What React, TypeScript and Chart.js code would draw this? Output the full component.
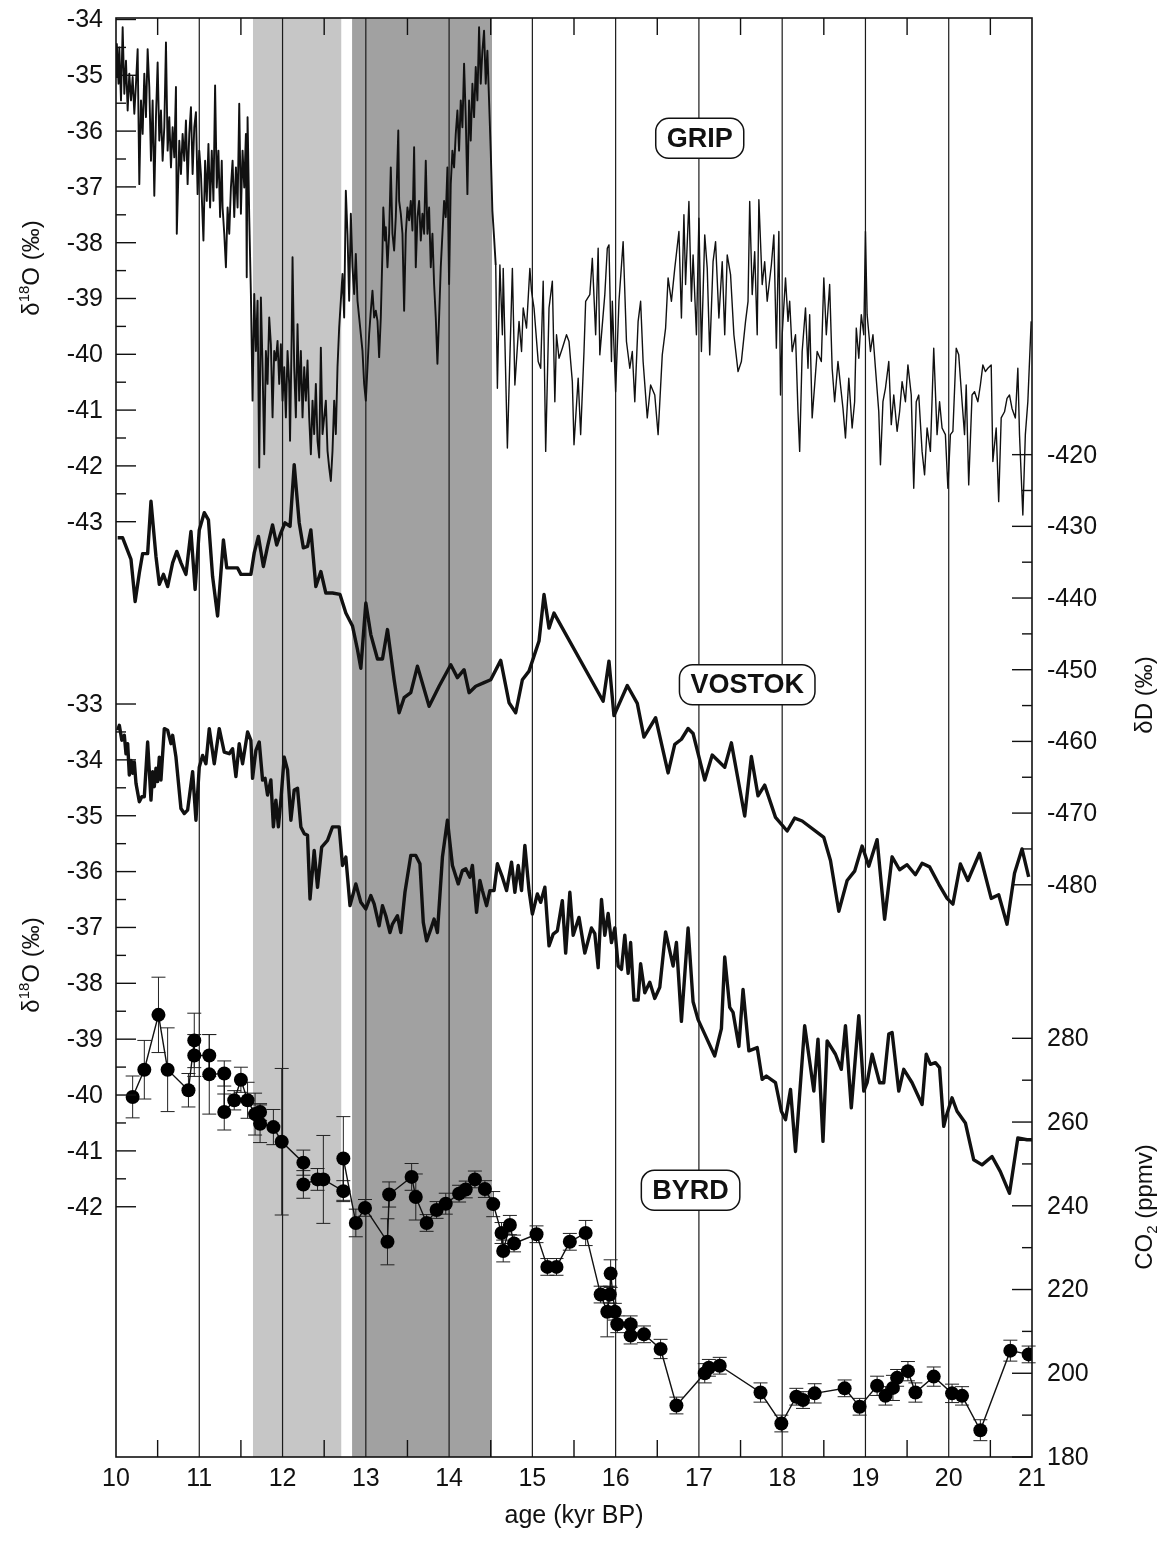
import { useEffect, useRef } from "react";
import { Chart, registerables } from "chart.js";

Chart.register(...registerables);

// ---------------- DATA ----------------
// GRIP δ18O (‰), left upper axis
const gripAge = [
  10.00, 10.01, 10.03, 10.04, 10.06, 10.08, 10.10, 10.12, 10.14, 10.16, 10.18, 10.20, 10.22, 10.24, 10.26, 10.28, 10.30, 10.32, 10.34, 10.36,
  10.38, 10.40, 10.42, 10.44, 10.46, 10.48, 10.50, 10.52, 10.54, 10.56, 10.58, 10.60, 10.62, 10.64, 10.66, 10.68, 10.70, 10.72, 10.73, 10.76,
  10.78, 10.80, 10.82, 10.84, 10.86, 10.88, 10.90, 10.92, 10.94, 10.96, 10.98, 11.00, 11.02, 11.05, 11.07, 11.09, 11.11, 11.13, 11.15, 11.17,
  11.19, 11.21, 11.23, 11.25, 11.27, 11.28, 11.30, 11.32, 11.34, 11.36, 11.38, 11.40, 11.42, 11.44, 11.46, 11.48, 11.50, 11.52, 11.54, 11.56,
  11.57, 11.58, 11.60, 11.62, 11.64, 11.66, 11.68, 11.70, 11.72, 11.74, 11.76, 11.78, 11.80, 11.82, 11.84, 11.86, 11.88, 11.90, 11.92, 11.94,
  11.96, 11.98, 12.00, 12.02, 12.04, 12.06, 12.08, 12.09, 12.11, 12.12, 12.14, 12.16, 12.18, 12.20, 12.22, 12.24, 12.26, 12.28, 12.30, 12.32,
  12.34, 12.36, 12.38, 12.40, 12.42, 12.44, 12.46, 12.48, 12.50, 12.52, 12.54, 12.56, 12.58, 12.60, 12.62, 12.64, 12.66, 12.68, 12.70, 12.72,
  12.74, 12.76, 12.78, 12.80, 12.82, 12.84, 12.86, 12.88, 12.90, 12.92, 12.94, 12.96, 12.98, 13.00, 13.02, 13.04, 13.06, 13.08, 13.10, 13.12,
  13.14, 13.16, 13.18, 13.20, 13.21, 13.23, 13.24, 13.26, 13.28, 13.30, 13.32, 13.34, 13.36, 13.39, 13.40, 13.42, 13.44, 13.46, 13.48, 13.50,
  13.52, 13.54, 13.56, 13.58, 13.60, 13.62, 13.64, 13.66, 13.68, 13.70, 13.72, 13.74, 13.76, 13.78, 13.80, 13.82, 13.84, 13.86, 13.88, 13.90,
  13.92, 13.94, 13.96, 13.98, 14.00, 14.02, 14.04, 14.06, 14.08, 14.10, 14.12, 14.14, 14.16, 14.18, 14.20, 14.22, 14.24, 14.26, 14.28, 14.30,
  14.32, 14.34, 14.36, 14.38, 14.40, 14.42, 14.44, 14.46, 14.48, 14.50, 14.52, 14.54,
  14.56, 14.58, 14.61, 14.64, 14.65, 14.70, 14.76, 14.79, 14.84, 14.87, 14.89, 14.93, 14.97, 14.99, 15.02, 15.07, 15.10, 15.13, 15.16, 15.20,
  15.24, 15.27, 15.29, 15.32, 15.36, 15.41, 15.44, 15.48, 15.50, 15.55, 15.58, 15.62, 15.64, 15.69, 15.72, 15.76, 15.79, 15.81, 15.87, 15.90,
  15.92, 15.95, 15.96, 16.00, 16.04, 16.09, 16.13, 16.17, 16.20, 16.23, 16.27, 16.30, 16.33, 16.38, 16.42, 16.47, 16.51, 16.56, 16.60, 16.63,
  16.67, 16.71, 16.76, 16.79, 16.82, 16.84, 16.88, 16.91, 16.93, 16.97, 17.00, 17.03, 17.07, 17.10, 17.13, 17.17, 17.20, 17.24, 17.28, 17.31,
  17.34, 17.38, 17.42, 17.47, 17.51, 17.56, 17.59, 17.61, 17.64, 17.67, 17.70, 17.72, 17.76, 17.79, 17.82, 17.87, 17.90, 17.93, 17.96, 17.98,
  18.00, 18.04, 18.07, 18.09, 18.12, 18.16, 18.19, 18.21, 18.24, 18.28, 18.31, 18.33, 18.36, 18.39, 18.42, 18.47, 18.50, 18.53, 18.57, 18.60,
  18.63, 18.67, 18.70, 18.73, 18.76, 18.80, 18.84, 18.87, 18.89, 18.92, 18.95, 18.98, 19.00, 19.02, 19.06, 19.09, 19.12, 19.16, 19.18, 19.21,
  19.24, 19.28, 19.31, 19.34, 19.38, 19.41, 19.44, 19.48, 19.51, 19.55, 19.58, 19.61, 19.64, 19.68, 19.71, 19.74, 19.78, 19.82, 19.86, 19.89,
  19.92, 19.96, 19.99, 20.02, 20.05, 20.09, 20.12, 20.16, 20.19, 20.21, 20.24, 20.28, 20.31, 20.35, 20.38, 20.41, 20.44, 20.47, 20.51, 20.53,
  20.57, 20.60, 20.63, 20.67, 20.70, 20.73, 20.76, 20.80, 20.83, 20.85, 20.89, 20.92, 20.95, 20.99,
];
const gripD18O = [
  -35.03, -34.44, -35.15, -34.50, -35.45, -34.14, -35.33, -34.74, -35.63, -34.97, -35.45, -35.03, -35.69, -35.15, -34.53, -36.95, -35.45, -36.05, -34.97, -35.75,
  -34.53, -35.21, -36.53, -35.45, -37.16, -35.75, -34.77, -36.17, -35.63, -36.53, -35.93, -34.41, -36.35, -35.75, -36.65, -35.93, -36.47, -35.21, -37.84, -36.17,
  -36.77, -36.05, -36.53, -35.81, -36.95, -36.05, -35.57, -36.77, -35.93, -35.66, -37.13, -36.35, -36.77, -37.96, -36.53, -37.25, -36.23, -37.37, -36.35, -37.25,
  -35.18, -37.01, -36.35, -37.54, -36.53, -37.37, -37.84, -38.44, -37.37, -37.84, -37.01, -36.53, -37.54, -36.65, -37.37, -35.51, -37.48, -36.35, -37.01, -36.05,
  -38.62, -35.75, -37.54, -38.92, -40.83, -38.92, -39.94, -39.04, -42.03, -38.98, -40.23, -41.79, -39.94, -40.53, -39.34, -39.82, -41.13, -39.94, -40.11, -39.76,
  -40.53, -39.82, -40.83, -40.23, -41.13, -39.94, -40.53, -41.55, -39.64, -38.26, -40.23, -41.13, -39.46, -40.83, -39.94, -41.13, -40.23, -40.83, -40.11, -41.13,
  -41.79, -40.83, -41.43, -40.53, -41.55, -41.85, -39.88, -41.43, -41.13, -40.83, -41.73, -42.03, -42.27, -41.73, -40.83, -41.43, -40.23, -39.52, -39.04, -38.56,
  -39.34, -37.07, -37.84, -39.04, -37.48, -38.44, -38.92, -38.20, -39.04, -39.34, -39.64, -39.94, -40.53, -40.83, -40.23, -39.64, -39.22, -38.86, -39.34, -39.22,
  -39.40, -40.05, -39.34, -38.14, -37.37, -37.96, -37.72, -38.44, -37.84, -36.65, -37.84, -38.14, -37.54, -35.99, -37.25, -37.48, -37.84, -39.22, -37.84, -37.37,
  -37.60, -37.25, -37.78, -36.29, -38.44, -37.54, -37.25, -37.96, -37.48, -37.84, -36.53, -37.84, -37.37, -38.44, -37.84, -38.74, -39.34, -40.17, -39.34, -38.44,
  -37.84, -37.25, -37.54, -36.65, -38.74, -36.95, -36.35, -36.65, -36.05, -35.63, -36.35, -35.45, -35.93, -34.79, -35.75, -37.13, -35.45, -36.17, -35.15, -35.75,
  -34.85, -35.45, -34.14, -35.15, -34.56, -34.20, -35.15, -34.56, -35.45, -36.35, -37.43, -37.90,
  -38.40, -40.61, -38.40, -39.65, -38.46, -41.68, -38.46, -40.55, -39.41, -39.95, -39.17, -39.53, -38.46, -38.87, -39.17, -40.13, -40.25, -38.69, -41.74, -39.17,
  -38.69, -40.85, -39.65, -40.07, -39.89, -39.65, -39.77, -40.49, -41.62, -40.43, -41.44, -39.95, -39.05, -38.93, -38.28, -39.65, -38.10, -40.01, -38.93, -38.10,
  -38.04, -40.13, -39.05, -40.67, -39.05, -37.98, -39.77, -40.25, -39.95, -40.85, -39.41, -39.05, -40.13, -41.14, -40.55, -40.73, -41.44, -40.01, -39.53, -38.63,
  -39.05, -38.46, -37.80, -39.35, -37.50, -38.75, -37.26, -39.05, -38.22, -39.65, -37.56, -39.95, -37.86, -38.46, -40.01, -38.34, -37.98, -39.35, -38.34, -39.65,
  -38.22, -38.57, -39.65, -40.31, -40.13, -39.41, -39.05, -37.26, -38.93, -38.16, -39.65, -37.23, -38.75, -38.34, -39.05, -38.40, -37.86, -39.89, -37.80, -40.73,
  -39.65, -38.63, -39.41, -39.05, -39.95, -39.65, -41.03, -41.74, -39.95, -39.17, -40.25, -39.29, -41.14, -40.55, -39.95, -40.13, -38.63, -39.65, -38.75, -40.25,
  -40.85, -40.13, -40.55, -40.97, -41.50, -40.43, -41.32, -40.85, -39.53, -40.07, -39.29, -39.65, -37.80, -39.29, -39.95, -39.65, -40.25, -41.03, -41.98, -40.85,
  -40.61, -40.13, -41.26, -40.73, -41.38, -41.03, -40.49, -40.85, -40.19, -40.73, -42.40, -40.85, -40.73, -41.74, -42.16, -41.32, -41.74, -39.89, -41.44, -40.85,
  -41.32, -41.44, -42.40, -41.44, -41.38, -39.89, -40.01, -40.85, -41.44, -40.55, -42.34, -40.73, -40.67, -40.85, -40.55, -40.19, -40.31, -40.25, -40.19, -41.92,
  -41.32, -42.64, -41.14, -41.03, -40.79, -40.73, -40.97, -41.14, -40.25, -41.44, -42.88, -41.44, -40.85, -39.41,
];

// VOSTOK δD (‰), right upper axis
const vostokAge = [
  10.02, 10.08, 10.18, 10.23, 10.28, 10.32, 10.38, 10.42, 10.48, 10.52, 10.57, 10.62, 10.68, 10.73, 10.78, 10.84, 10.90, 10.95, 11.00, 11.06,
  11.11, 11.16, 11.22, 11.29, 11.33, 11.40, 11.46, 11.50, 11.62, 11.66, 11.71, 11.77, 11.82, 11.88, 11.93, 11.98, 12.03, 12.09, 12.14, 12.20,
  12.25, 12.30, 12.34, 12.40, 12.46, 12.52, 12.60, 12.69, 12.76, 12.84, 12.90, 12.94, 13.00, 13.06, 13.14, 13.20, 13.26, 13.34, 13.40, 13.46,
  13.54, 13.62, 13.76, 13.88, 14.02, 14.10, 14.18, 14.24, 14.32, 14.42, 14.50, 14.62, 14.72, 14.80, 14.88, 14.96, 15.08, 15.14, 15.20, 15.26,
  15.85, 15.92, 15.98, 16.14, 16.26, 16.34, 16.48, 16.63, 16.71, 16.79, 16.87, 16.93, 17.07, 17.16, 17.31, 17.39, 17.55, 17.63, 17.71, 17.79,
  17.92, 18.06, 18.15, 18.24, 18.50, 18.58, 18.68, 18.78, 18.87, 18.96, 19.04, 19.14, 19.23, 19.32, 19.41, 19.50, 19.60, 19.68, 19.77, 19.88,
  19.98, 20.05, 20.14, 20.23, 20.37, 20.51, 20.60, 20.70, 20.79, 20.88, 20.96,
];
const vostokDD = [
  -431.6, -431.6, -434.6, -440.5, -436.5, -433.8, -433.8, -426.5, -434.2, -438.1, -436.7, -438.4, -435.1, -433.5, -435.1, -436.7, -430.7, -438.8, -430.5, -428.1,
  -429.1, -437.0, -442.5, -431.9, -435.8, -435.8, -435.8, -436.7, -436.7, -433.7, -431.4, -435.6, -432.8, -429.8, -432.6, -430.9, -429.5, -430.0, -421.4, -429.5,
  -433.0, -432.8, -430.5, -438.4, -436.3, -439.3, -439.3, -439.5, -442.1, -443.9, -447.2, -449.8, -440.7, -445.1, -448.5, -448.5, -444.4, -451.4, -456.0, -453.9,
  -453.2, -449.5, -455.1, -452.3, -449.3, -451.1, -450.0, -453.2, -452.3, -451.8, -451.4, -448.7, -454.6, -456.0, -451.4, -450.2, -446.0, -439.5, -444.2, -442.1,
  -454.4, -448.8, -456.4, -452.2, -454.7, -459.4, -456.7, -464.4, -460.4, -459.7, -458.2, -458.9, -465.4, -461.9, -463.6, -460.2, -470.4, -462.1, -467.6, -466.1,
  -470.6, -472.5, -470.7, -471.1, -473.4, -476.6, -483.7, -479.4, -478.1, -474.6, -477.4, -473.7, -484.8, -476.1, -477.9, -477.2, -478.6, -477.0, -477.5, -479.9,
  -481.9, -482.7, -477.1, -479.4, -475.6, -481.9, -481.4, -485.5, -478.4, -475.0, -478.9,
];

// BYRD δ18O (‰), left lower axis
const byrdAge = [
  10.02, 10.04, 10.07, 10.10, 10.12, 10.14, 10.16, 10.18, 10.20, 10.22, 10.24, 10.28, 10.31, 10.34, 10.38, 10.42, 10.44, 10.46, 10.48, 10.50,
  10.52, 10.54, 10.58, 10.62, 10.66, 10.68, 10.72, 10.78, 10.82, 10.86, 10.92, 10.96, 11.00, 11.04, 11.08, 11.12, 11.18, 11.24, 11.30, 11.36,
  11.40, 11.44, 11.48, 11.52, 11.58, 11.62, 11.64, 11.68, 11.72, 11.76, 11.79, 11.82, 11.86, 11.89, 11.92, 11.95, 11.98, 12.02, 12.06, 12.10,
  12.14, 12.18, 12.22, 12.26, 12.30, 12.33, 12.38, 12.42, 12.47, 12.54, 12.60, 12.68, 12.72, 12.76, 12.81, 12.88, 12.94, 13.00, 13.06, 13.10,
  13.16, 13.20, 13.24, 13.29, 13.32, 13.38, 13.42, 13.47, 13.54, 13.60, 13.65, 13.69, 13.73, 13.78, 13.82, 13.86, 13.92, 13.98, 14.04, 14.11,
  14.16, 14.20, 14.25, 14.28, 14.33, 14.37, 14.40, 14.45, 14.49, 14.54, 14.58, 14.64, 14.69, 14.75, 14.79, 14.83, 14.87, 14.91, 14.96, 15.00,
  15.06, 15.10, 15.15, 15.20, 15.25, 15.30, 15.36, 15.40, 15.45, 15.49, 15.56, 15.63, 15.71, 15.75, 15.79, 15.83, 15.87, 15.91, 15.95, 15.99,
  16.03, 16.07, 16.11, 16.15, 16.18, 16.22, 16.27, 16.30, 16.35, 16.41, 16.47, 16.53, 16.60, 16.69, 16.73, 16.79, 16.87, 16.93, 16.99, 17.07,
  17.19, 17.27, 17.31, 17.37, 17.41, 17.48, 17.53, 17.60, 17.70, 17.76, 17.81, 17.92, 17.99, 18.04, 18.10, 18.16, 18.27, 18.38, 18.43, 18.49,
  18.54, 18.64, 18.71, 18.76, 18.83, 18.92, 18.98, 19.02, 19.08, 19.17, 19.22, 19.28, 19.32, 19.40, 19.46, 19.56, 19.68, 19.73, 19.78, 19.84,
  19.89, 19.94, 19.97, 20.04, 20.10, 20.20, 20.30, 20.40, 20.52, 20.62, 20.73, 20.83, 20.94, 21.00,
];
const byrdD18O = [
  -33.47, -33.38, -33.65, -33.56, -33.89, -33.71, -34.27, -34.01, -34.24, -34.04, -34.42, -34.75, -34.66, -34.66, -33.68, -34.72, -34.21, -34.48, -34.15, -34.39,
  -33.95, -34.36, -33.44, -33.47, -33.71, -33.56, -33.95, -34.87, -34.96, -34.90, -34.21, -35.08, -34.13, -33.92, -34.07, -33.44, -34.07, -33.44, -33.86, -33.89,
  -33.80, -34.30, -33.71, -34.07, -33.50, -33.65, -34.33, -33.83, -33.68, -34.36, -34.33, -34.63, -34.36, -35.20, -34.72, -35.20, -34.72, -33.95, -34.18, -35.08,
  -34.54, -34.51, -35.20, -35.32, -35.35, -36.49, -35.62, -36.28, -35.56, -35.44, -35.20, -35.20, -35.89, -35.74, -36.61, -36.22, -36.55, -36.67, -36.43, -36.58,
  -36.97, -36.61, -36.79, -37.09, -36.94, -36.79, -37.09, -36.37, -35.71, -35.71, -35.86, -36.91, -37.24, -37.03, -36.85, -37.09, -35.74, -35.08, -35.89, -36.22,
  -35.98, -35.95, -36.10, -35.89, -36.73, -36.16, -36.34, -36.61, -36.34, -36.34, -35.86, -36.10, -36.34, -35.83, -36.37, -35.89, -36.34, -35.53, -36.34, -36.76,
  -36.40, -36.55, -36.28, -37.33, -37.12, -37.06, -36.52, -37.46, -36.37, -37.14, -36.82, -37.46, -37.01, -37.11, -37.72, -36.50, -37.14, -36.75, -37.27, -37.01,
  -37.69, -37.75, -37.14, -37.82, -37.27, -38.30, -38.30, -37.65, -38.17, -37.98, -38.27, -38.07, -37.08, -37.69, -37.27, -38.68, -37.01, -38.33, -38.65, -38.91,
  -39.30, -38.81, -37.53, -38.43, -38.52, -39.13, -38.11, -39.21, -39.15, -39.72, -39.66, -39.78, -40.29, -40.44, -39.90, -41.01, -38.76, -39.93, -39.00, -40.83,
  -39.03, -39.27, -39.54, -38.76, -40.23, -38.58, -39.93, -39.78, -39.27, -39.78, -39.78, -38.91, -38.88, -39.93, -39.54, -39.78, -40.17, -39.27, -39.45, -39.42,
  -39.51, -40.56, -40.38, -40.05, -40.29, -40.50, -41.16, -41.25, -41.10, -41.37, -41.76, -40.77, -40.80, -40.80,
];

// BYRD CO2 (ppmv), right lower axis, with 1-sigma error
const co2Age = [
  10.20, 10.34, 10.51, 10.62, 10.87, 10.94, 10.94, 11.12, 11.12, 11.30, 11.30, 11.42, 11.50, 11.58, 11.67, 11.73, 11.73, 11.89, 11.99, 12.25,
  12.25, 12.42, 12.49, 12.73, 12.73, 12.88, 12.99, 13.26, 13.28, 13.55, 13.60, 13.73, 13.85, 13.96, 14.12, 14.20, 14.31, 14.43, 14.53, 14.63,
  14.65, 14.73, 14.78, 15.05, 15.18, 15.29, 15.45, 15.64, 15.82, 15.90, 15.93, 15.94, 15.99, 16.02, 16.18, 16.18, 16.34, 16.54, 16.73, 17.07,
  17.12, 17.25, 17.74, 17.99, 18.17, 18.25, 18.39, 18.75, 18.93, 19.14, 19.24, 19.33, 19.38, 19.51, 19.60, 19.82, 20.04, 20.16, 20.38, 20.74,
  20.96,
];
const co2Ppmv = [
  266.0, 272.5, 285.6, 272.5, 267.6, 279.5, 275.9, 275.9, 271.4, 271.6, 262.4, 265.2, 270.1, 265.2, 261.9, 262.4, 259.6, 258.8, 255.3, 250.3,
  245.1, 246.3, 246.3, 243.5, 251.3, 235.9, 239.5, 231.4, 242.7, 246.9, 242.1, 235.9, 239.0, 240.5, 242.9, 243.9, 246.3, 244.0, 240.4, 233.5,
  229.2, 235.4, 231.0, 233.2, 225.4, 225.4, 231.4, 233.5, 218.8, 214.7, 218.8, 223.8, 214.7, 211.7, 211.7, 209.0, 209.3, 205.8, 192.3, 200.0,
  201.3, 201.8, 195.4, 188.0, 194.4, 193.6, 195.2, 196.4, 192.0, 197.0, 194.6, 196.5, 198.9, 200.5, 195.4, 199.2, 195.2, 194.6, 186.4, 205.4,
  204.5,
];
const co2Err = [
  5.0, 7.0, 9.0, 10.0, 4.0, 6.5, 5.0, 5.0, 9.5, 3.0, 4.3, 2.3, 3.0, 4.3, 5.0, 2.0, 4.5, 4.2, 17.5, 3.0,
  3.3, 2.6, 10.5, 2.5, 10.0, 3.3, 2.0, 5.5, 3.0, 3.2, 5.5, 2.0, 2.0, 2.5, 2.0, 2.0, 2.0, 2.0, 3.0, 2.5,
  2.6, 2.3, 2.0, 2.0, 2.0, 2.0, 2.0, 3.0, 2.0, 6.0, 2.0, 3.3, 2.0, 2.0, 2.0, 2.0, 2.0, 2.3, 2.0, 2.3,
  2.0, 2.0, 2.3, 2.0, 2.0, 2.0, 2.3, 2.0, 2.0, 2.3, 2.2, 3.0, 2.0, 2.3, 2.3, 2.3, 2.2, 2.2, 2.5, 2.5,
  2.0,
];

// axis ticks / labels
const xTickLabels = [10, 11, 12, 13, 14, 15, 16, 17, 18, 19, 20, 21];
const xMinorTicks = [10.5, 11.5, 12.5, 13.5, 14.5, 15.5, 16.5, 17.5, 18.5, 19.5, 20.5];
const gripTicks = [-34, -35, -36, -37, -38, -39, -40, -41, -42, -43];
const gripMinor = [-34.5, -35.5, -36.5, -37.5, -38.5, -39.5, -40.5, -41.5, -42.5];
const byrdTicks = [-33, -34, -35, -36, -37, -38, -39, -40, -41, -42];
const byrdMinor = [-33.5, -34.5, -35.5, -36.5, -37.5, -38.5, -39.5, -40.5, -41.5];
const dDTicks = [-420, -430, -440, -450, -460, -470, -480];
const dDMinor = [-425, -435, -445, -455, -465, -475];
const co2Ticks = [180, 200, 220, 240, 260, 280];
const co2Minor = [190, 210, 230, 250, 270];

// shaded intervals (kyr BP)
const bandLight = [11.645, 12.705];
const bandDark = [12.835, 14.515];

const FONT = '"Liberation Sans", Arial, Helvetica, sans-serif';

type Part = { t: string; size: number; dy: number };

function drawParts(ctx: CanvasRenderingContext2D, cx: number, cy: number, parts: Part[], rot: number) {
  ctx.save();
  ctx.translate(cx, cy);
  ctx.rotate(rot);
  const widths: number[] = [];
  let total = 0;
  for (const p of parts) {
    ctx.font = `${p.size}px ${FONT}`;
    const w = ctx.measureText(p.t).width;
    widths.push(w);
    total += w;
  }
  let x = -total / 2;
  ctx.textAlign = "left";
  ctx.textBaseline = "alphabetic";
  ctx.fillStyle = "#111";
  parts.forEach((p, i) => {
    ctx.font = `${p.size}px ${FONT}`;
    ctx.fillText(p.t, x, 9 + p.dy);
    x += widths[i];
  });
  ctx.restore();
}

function labelBox(ctx: CanvasRenderingContext2D, cx: number, cy: number, text: string) {
  ctx.save();
  ctx.font = `bold 27px ${FONT}`;
  const w = ctx.measureText(text).width + 22;
  const h = 40;
  const x = cx - w / 2;
  const y = cy - h / 2;
  const r = 13;
  ctx.beginPath();
  ctx.moveTo(x + r, y);
  ctx.lineTo(x + w - r, y);
  ctx.arcTo(x + w, y, x + w, y + r, r);
  ctx.lineTo(x + w, y + h - r);
  ctx.arcTo(x + w, y + h, x + w - r, y + h, r);
  ctx.lineTo(x + r, y + h);
  ctx.arcTo(x, y + h, x, y + h - r, r);
  ctx.lineTo(x, y + r);
  ctx.arcTo(x, y, x + r, y, r);
  ctx.closePath();
  ctx.fillStyle = "#fff";
  ctx.fill();
  ctx.lineWidth = 1.5;
  ctx.strokeStyle = "#111";
  ctx.stroke();
  ctx.fillStyle = "#111";
  ctx.textAlign = "center";
  ctx.textBaseline = "middle";
  ctx.fillText(text, cx, cy + 1);
  ctx.restore();
}

const decor = {
  id: "decor",
  beforeDatasetsDraw(chart: any) {
    const { ctx, chartArea: a, scales } = chart;
    const xs = scales.x;
    ctx.save();
    const bands: [number[], string][] = [
      [bandLight, "#c6c6c6"],
      [bandDark, "#a1a1a1"],
    ];
    for (const [b, col] of bands) {
      const x0 = xs.getPixelForValue(b[0]);
      const x1 = xs.getPixelForValue(b[1]);
      ctx.fillStyle = col;
      ctx.fillRect(x0, a.top, x1 - x0, a.bottom - a.top);
    }
    ctx.strokeStyle = "#1a1a1a";
    ctx.lineWidth = 1.2;
    for (const v of xTickLabels) {
      if (v === 10 || v === 21) continue;
      const px = xs.getPixelForValue(v);
      ctx.beginPath();
      ctx.moveTo(px, a.top);
      ctx.lineTo(px, a.bottom);
      ctx.stroke();
    }
    // CO2 error bars
    const meta = chart.getDatasetMeta(3);
    const yC = scales.yC;
    ctx.lineWidth = 1;
    ctx.strokeStyle = "#222";
    meta.data.forEach((pt: any, i: number) => {
      const top = yC.getPixelForValue(co2Ppmv[i] + co2Err[i]);
      const bot = yC.getPixelForValue(co2Ppmv[i] - co2Err[i]);
      ctx.beginPath();
      ctx.moveTo(pt.x, top);
      ctx.lineTo(pt.x, bot);
      ctx.moveTo(pt.x - 7, top);
      ctx.lineTo(pt.x + 7, top);
      ctx.moveTo(pt.x - 7, bot);
      ctx.lineTo(pt.x + 7, bot);
      ctx.stroke();
    });
    ctx.restore();
  },
  afterDatasetsDraw(chart: any) {
    const { ctx, chartArea: a, scales } = chart;
    const xs = scales.x;
    ctx.save();
    // label boxes
    labelBox(ctx, xs.getPixelForValue(17.01), scales.yG.getPixelForValue(-36.13), "GRIP");
    labelBox(ctx, xs.getPixelForValue(17.58), scales.yD.getPixelForValue(-452.1), "VOSTOK");
    labelBox(ctx, xs.getPixelForValue(16.9), scales.yC.getPixelForValue(243.7), "BYRD");

    // frame
    ctx.strokeStyle = "#111";
    ctx.lineWidth = 1.6;
    ctx.strokeRect(a.left, a.top, a.right - a.left, a.bottom - a.top);

    // ticks
    ctx.lineWidth = 1.4;
    const hTick = (y: number, left: boolean, len: number) => {
      ctx.beginPath();
      if (left) {
        ctx.moveTo(a.left, y);
        ctx.lineTo(a.left + len, y);
      } else {
        ctx.moveTo(a.right, y);
        ctx.lineTo(a.right - len, y);
      }
      ctx.stroke();
    };
    for (const v of gripTicks) hTick(scales.yG.getPixelForValue(v), true, 20);
    for (const v of gripMinor) hTick(scales.yG.getPixelForValue(v), true, 10);
    for (const v of byrdTicks) hTick(scales.yB.getPixelForValue(v), true, 20);
    for (const v of byrdMinor) hTick(scales.yB.getPixelForValue(v), true, 10);
    for (const v of dDTicks) hTick(scales.yD.getPixelForValue(v), false, 20);
    for (const v of dDMinor) hTick(scales.yD.getPixelForValue(v), false, 10);
    for (const v of co2Ticks) hTick(scales.yC.getPixelForValue(v), false, 20);
    for (const v of co2Minor) hTick(scales.yC.getPixelForValue(v), false, 10);
    for (const v of xMinorTicks) {
      const px = xs.getPixelForValue(v);
      ctx.beginPath();
      ctx.moveTo(px, a.bottom);
      ctx.lineTo(px, a.bottom - 17);
      ctx.moveTo(px, a.top);
      ctx.lineTo(px, a.top + 17);
      ctx.stroke();
    }

    // tick labels
    ctx.fillStyle = "#111";
    ctx.font = `25px ${FONT}`;
    ctx.textBaseline = "middle";
    ctx.textAlign = "right";
    for (const v of gripTicks) ctx.fillText(String(v), a.left - 13, scales.yG.getPixelForValue(v) + 1);
    for (const v of byrdTicks) ctx.fillText(String(v), a.left - 13, scales.yB.getPixelForValue(v) + 1);
    ctx.textAlign = "left";
    for (const v of dDTicks) ctx.fillText(String(v), a.right + 15, scales.yD.getPixelForValue(v) + 1);
    for (const v of co2Ticks) ctx.fillText(String(v), a.right + 15, scales.yC.getPixelForValue(v) + 1);
    ctx.textAlign = "center";
    for (const v of xTickLabels) ctx.fillText(String(v), xs.getPixelForValue(v), a.bottom + 22);

    // axis titles
    ctx.fillText("age (kyr BP)", (a.left + a.right) / 2, a.bottom + 59);
    const rot = -Math.PI / 2;
    const d18 = [
      { t: "δ", size: 24, dy: 0 },
      { t: "18", size: 15, dy: -10 },
      { t: "O (‰)", size: 24, dy: 0 },
    ];
    drawParts(ctx, 30, 268, d18, rot);
    drawParts(ctx, 30, 965, d18, rot);
    drawParts(ctx, 1143, 695, [{ t: "δD (‰)", size: 24, dy: 0 }], rot);
    drawParts(
      ctx,
      1143,
      1207,
      [
        { t: "CO", size: 24, dy: 0 },
        { t: "2", size: 15, dy: 5 },
        { t: " (ppmv)", size: 24, dy: 0 },
      ],
      rot
    );
    ctx.restore();
  },
};

export default function App() {
  const ref = useRef<HTMLCanvasElement>(null);
  useEffect(() => {
    const toXY = (xa: number[], ya: number[]) => xa.map((x, i) => ({ x, y: ya[i] }));
    const chart = new Chart(ref.current as HTMLCanvasElement, {
      type: "line",
      data: {
        datasets: [
          {
            label: "GRIP",
            data: toXY(gripAge, gripD18O),
            yAxisID: "yG",
            borderColor: "#111",
            borderWidth: 1.5,
            segment: {
              borderWidth: (c: any) => (c.p0.parsed.x < 14.55 ? 1.9 : 1.4),
            },
            pointRadius: 0,
            tension: 0,
            borderJoinStyle: "round",
          },
          {
            label: "VOSTOK",
            data: toXY(vostokAge, vostokDD),
            yAxisID: "yD",
            borderColor: "#111",
            borderWidth: 3.4,
            pointRadius: 0,
            tension: 0,
            borderJoinStyle: "round",
          },
          {
            label: "BYRD d18O",
            data: toXY(byrdAge, byrdD18O),
            yAxisID: "yB",
            borderColor: "#111",
            borderWidth: 3.4,
            pointRadius: 0,
            tension: 0,
            borderJoinStyle: "round",
          },
          {
            label: "BYRD CO2",
            data: toXY(co2Age, co2Ppmv),
            yAxisID: "yC",
            borderColor: "#111",
            borderWidth: 1.4,
            pointRadius: 7,
            pointBorderWidth: 0,
            pointBackgroundColor: "#000",
            tension: 0,
          },
        ] as any,
      },
      options: {
        responsive: false,
        animation: false,
        events: [],
        layout: { padding: { left: 116, right: 131, top: 18, bottom: 84 } },
        plugins: { legend: { display: false }, tooltip: { enabled: false } },
        scales: {
          x: { type: "linear", min: 10, max: 21, display: false },
          yG: { type: "linear", min: -59.762, max: -33.973, display: false },
          yB: { type: "linear", min: -46.48, max: -20.719, display: false },
          yD: { type: "linear", min: -559.82, max: -359.09, display: false },
          yC: { type: "linear", min: 180, max: 523.7, display: false },
        },
      },
      plugins: [decor],
    });
    return () => chart.destroy();
  }, []);
  return (
    <div style={{ position: "absolute", left: 0, top: 0, width: 1163, height: 1541, background: "#fff" }}>
      <canvas ref={ref} width={1163} height={1541} style={{ display: "block" }} />
    </div>
  );
}
